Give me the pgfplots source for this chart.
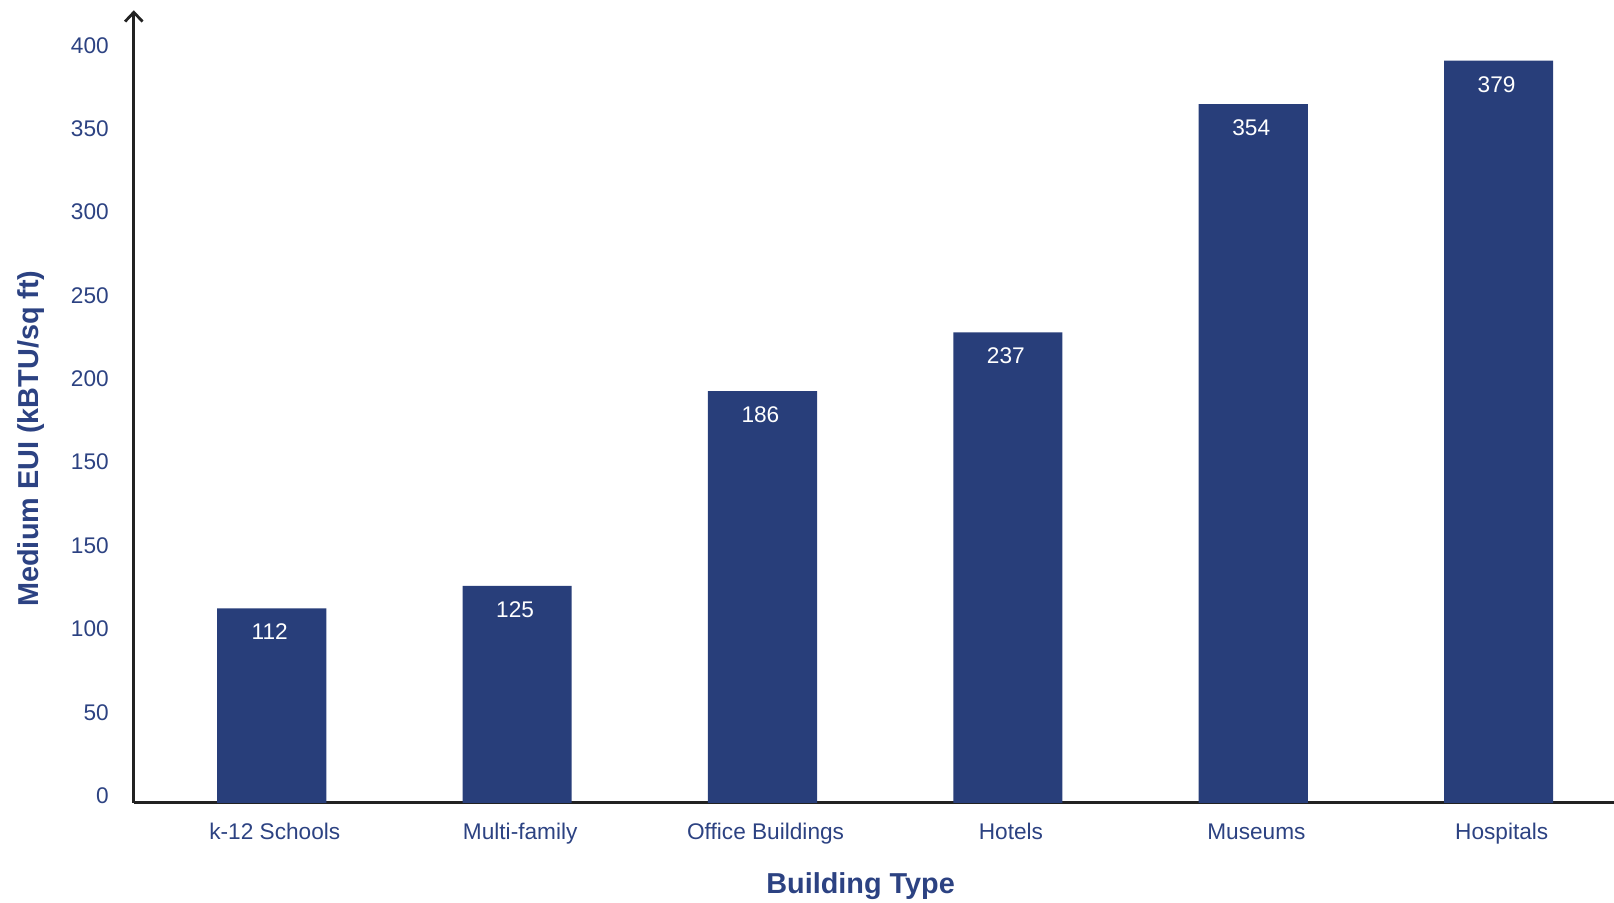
\documentclass[border=0pt]{standalone}
\usepackage{pgfplots}
\pgfplotsset{compat=1.18}
\usepackage{pgfplotstable}
\usepackage{fontspec}
\setmainfont{Liberation Sans}
\usetikzlibrary{arrows.meta}
\definecolor{barblue}{RGB}{40,62,122}
\definecolor{txtblue}{RGB}{44,66,130}
\definecolor{axgray}{RGB}{34,34,34}
\pgfplotstableread{
x y lab
0 116.7 112
1 130.2 125
2 246.9 186
3 282.1 237
4 419.1 354
5 445.1 379
}\bars
\begin{document}
\begin{tikzpicture}
\useasboundingbox (-65pt,-48.5pt) rectangle (719pt,390pt);
\begin{axis}[
  at={(0,0)}, anchor=south west,
  scale only axis, width=719pt, height=385pt,
  xmin=-0.562, xmax=5.470, ymin=0, ymax=475.3,
  axis x line*=bottom, axis y line*=left,
  axis line style={line width=1.35pt, axgray},
  x axis line style={-},
  y axis line style={-{Straight Barb[length=4.5pt,width=8.5pt]}},
  major tick length=0pt,
  xtick={0,1,2,3,4,5},
  xticklabels={k-12 Schools,Multi-family,Office Buildings,Hotels,Museums,Hospitals},
  ytick={0,50,100,150,200,250,300,350,400,450},
  yticklabels={0,50,100,150,150,200,250,300,350,400},
  /pgf/number format/assume math mode=true,
  ticklabel style={font=\fontsize{11}{13}\selectfont, text=txtblue, inner sep=0pt},
  xticklabel style={anchor=base, yshift=-18pt, xshift=1.5pt},
  yticklabel style={anchor=east, xshift=-12pt, yshift=3.5pt},
  xlabel={Building Type},
  ylabel={Medium EUI (kBTU/sq ft)},
  label style={font=\fontsize{14}{16}\selectfont\bfseries, text=txtblue, inner sep=0pt},
  xlabel style={at={(axis description cs:0.491,-0.105)}, anchor=center},
  ylabel style={at={(axis description cs:-0.0695,0.4597)}, anchor=center, rotate=0},
  clip=false,
]
\addplot[ybar, bar width=53pt, fill=barblue, draw=none,
  point meta=explicit symbolic,
  nodes near coords={\pgfplotspointmeta},
  nodes near coords style={anchor=center, yshift=-11.5pt, xshift=-1pt, text=white, font=\fontsize{11}{13}\selectfont}]
  table[x=x, y=y, meta=lab] {\bars};
\end{axis}
\end{tikzpicture}
\end{document}
